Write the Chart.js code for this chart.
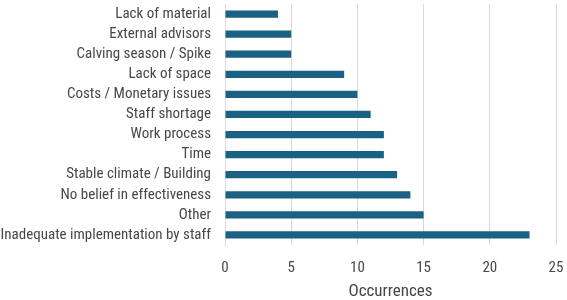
<!DOCTYPE html>
<html>
<head>
<meta charset="utf-8">
<script src="https://cdn.jsdelivr.net/npm/chart.js@4.4.0/dist/chart.umd.min.js"></script>
<style>
  html, body { margin: 0; padding: 0; background: #fff; }
  #wrap { width: 567px; height: 300px; position: relative; }
</style>
</head>
<body>
<div id="wrap"><canvas id="chart"></canvas></div>
<script>
// Reasons, top to bottom as shown in the chart
const categories = [
    'Lack of material',
    'External advisors',
    'Calving season / Spike',
    'Lack of space',
    'Costs / Monetary issues',
    'Staff shortage',
    'Work process',
    'Time',
    'Stable climate / Building',
    'No belief in effectiveness',
    'Other',
    'Inadequate implementation by staff'
];
const occurrences = [4, 5, 5, 9, 10, 11, 12, 12, 13, 14, 15, 23];
const xTicks = [0, 5, 10, 15, 20, 25];

const FONT = '"Roboto Condensed", "Liberation Sans", sans-serif';
const TEXT = '#474747';

const ctx = document.getElementById('chart').getContext('2d');
new Chart(ctx, {
    type: 'bar',
    data: {
        labels: categories,
        datasets: [{
            label: 'Occurrences',
            data: occurrences,
            backgroundColor: '#1a6184',
            borderWidth: 0,
            barPercentage: 0.36,
            categoryPercentage: 1
        }]
    },
    options: {
        indexAxis: 'y',
        responsive: true,
        maintainAspectRatio: false,
        animation: false,
        layout: { padding: { top: 4, right: 11, bottom: 0, left: 0 } },
        plugins: {
            legend: { display: false },
            tooltip: { enabled: false }
        },
        scales: {
            x: {
                min: xTicks[0],
                max: xTicks[xTicks.length - 1],
                afterBuildTicks: s => { s.ticks = xTicks.map(v => ({ value: v })); },
                afterFit: s => { s.height = 55; s.paddingLeft = 0; s.paddingRight = 0; },
                grid: { color: '#d9d9d9', drawTicks: false },
                border: { display: false },
                ticks: { color: TEXT, padding: 14, font: { family: FONT, size: 15 } },
                title: {
                    display: true,
                    text: 'Occurrences',
                    color: TEXT,
                    padding: { top: 0, bottom: -2 },
                    font: { family: FONT, size: 17 }
                }
            },
            y: {
                afterFit: s => { s.width = 225; s.paddingTop = 0; s.paddingBottom = 0; },
                grid: { display: false, drawTicks: false },
                border: { display: true, color: '#d9d9d9' },
                ticks: { color: TEXT, padding: 14, autoSkip: false, font: { family: FONT, size: 15 } }
            }
        }
    }
});
</script>
</body>
</html>
